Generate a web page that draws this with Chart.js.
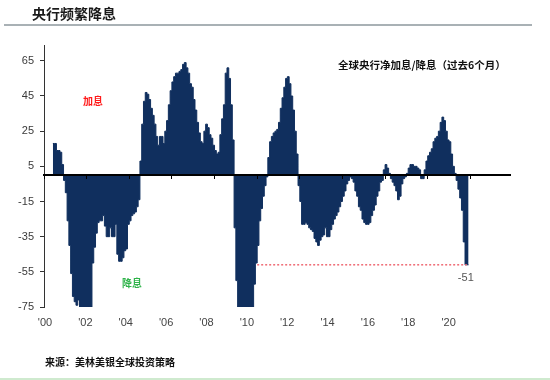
<!DOCTYPE html>
<html>
<head>
<meta charset="utf-8">
<script src="https://cdn.jsdelivr.net/npm/chart.js@4/dist/chart.umd.min.js"></script>
<style>
html, body { margin: 0; padding: 0; background: #ffffff; }
#wrap { position: relative; width: 550px; height: 380px; overflow: hidden; background: #fff; }
#c { position: absolute; left: 0; top: 0; }
.title { position: absolute; left: 32px; top: 5px; font: bold 14px/16px "Noto Sans CJK SC", sans-serif; color: #1a1a1a; white-space: nowrap; }
.rule { position: absolute; left: 4px; top: 24px; width: 528px; height: 2px; background: #a9b1b5; }
.src { position: absolute; left: 45px; top: 354px; font: bold 10px/16px "Noto Sans CJK SC", sans-serif; color: #111; white-space: nowrap; }
.bottomline { position: absolute; left: 0; top: 378px; width: 550px; height: 2px; background: #cfeacf; }
</style>
</head>
<body>
<div id="wrap">
  <canvas id="c" width="550" height="380"></canvas>
  <div class="title">央行频繁降息</div>
  <div class="rule"></div>
  <div class="src">来源：美林美银全球投资策略</div>
  <div class="bottomline"></div>
</div>
<script>
// ---- data: global central banks' net hikes/cuts over past 6 months (monthly) ----
const startYear = 2000;
const startMonth = 5; // June 2000 (0-based month)
const rates2000 = [18, 18, 14, 14, 13, 6, -3];               // Jun-Dec
const rates2001 = [-10, -26, -40, -56, -69, -72, -74, -71, -75, -75, -75, -75];
const rates2002 = [-75, -75, -75, -50, -41, -33, -27, -26, -26, -23, -29, -35];
const rates2003 = [-35, -30, -35, -35, -28, -45, -49, -49, -47, -43, -42, -28];
const rates2004 = [-26, -23, -22, -21, -18, -14, 8, 29, 42, 47, 46, 43];
const rates2005 = [38, 34, 29, 22, 17, 22, 22, 18, 25, 31, 40, 48];
const rates2006 = [53, 56, 58, 58, 59, 60, 63, 64, 61, 58, 52, 50];
const rates2007 = [43, 37, 30, 24, 19, 18, 25, 29, 27, 23, 21, 17];
const rates2008 = [14, 12, 13, 23, 32, 40, 58, 61, 55, 40, 20, -30];
const rates2009 = [-60, -75, -75, -75, -75, -75, -75, -75, -75, -75, -62, -50];
const rates2010 = [-40, -26, -19, -12, -6, -1, 10, 19, 22, 24, 25, 26];
const rates2011 = [30, 38, 44, 50, 55, 56, 52, 45, 37, 25, 12, -6];
const rates2012 = [-15, -28, -28, -27, -28, -30, -31, -32, -36, -38, -40, -37];
const rates2013 = [-35, -34, -30, -35, -35, -31, -28, -25, -23, -21, -18, -15];
const rates2014 = [-12, -9, -5, -3, -1, -2, -4, -9, -12, -18, -20, -25];
const rates2015 = [-27, -28, -28, -27, -23, -20, -17, -12, -9, -4, -3, 3];
const rates2016 = [6, 4, 1, -2, -4, -6, -9, -14, -12, -5, -2, -1];
const rates2017 = [1, 4, 6, 6, 5, 5, 4, 3, -2, -2, 3, 8];
const rates2018 = [11, 13, 15, 19, 21, 22, 25, 30, 33, 31, 25, 20];
const rates2019 = [19, 12, 5, 1, -3, -8, -13, -20, -38, -51, -51];  // Jan-Nov

const yTickValues = [65, 45, 25, 5, -15, -35, -55, -75];
const tickYears = [2000, 2002, 2004, 2006, 2008, 2010, 2012, 2014, 2016, 2018, 2020];
const tickLabels = ["'00", "'02", "'04", "'06", "'08", "'10", "'12", "'14", "'16", "'18", "'20"];
const refLineStart = 2010;      // dashed reference line start
const latestLabel = "-51";
const hikeLabel = "加息";
const cutLabel = "降息";
const seriesTitle = "全球央行净加息/降息（过去6个月）";

// ---- build points (step function: each value holds for its month) ----
const series = [].concat(rates2000, rates2001, rates2002, rates2003, rates2004, rates2005,
  rates2006, rates2007, rates2008, rates2009, rates2010, rates2011, rates2012, rates2013,
  rates2014, rates2015, rates2016, rates2017, rates2018, rates2019);
const points = series.map((v, i) => ({ x: startYear + (startMonth + i) / 12, y: v }));
const lastValue = series[series.length - 1];
const lastX = points[points.length - 1].x;
points.push({ x: startYear + (startMonth + series.length) / 12, y: lastValue }); // close last step

const refPoints = [{ x: refLineStart, y: lastValue }, { x: lastX, y: lastValue }];

const annot = {
  id: 'annot',
  afterDraw(chart) {
    const ctx = chart.ctx;
    const xs = chart.scales.x, ys = chart.scales.y;
    ctx.save();
    ctx.textBaseline = 'middle';
    ctx.textAlign = 'left';
    ctx.fillStyle = '#111';
    ctx.font = 'bold 10.5px "Noto Sans CJK SC"';
    ctx.fillText(seriesTitle, 338, 65);
    ctx.textAlign = 'center';
    ctx.fillStyle = '#ff1a1a';
    ctx.font = 'bold 10px "Noto Sans CJK SC"';
    ctx.fillText(hikeLabel, 93, 101);
    ctx.fillStyle = '#2fb34a';
    ctx.fillText(cutLabel, 132, 283);
    ctx.fillStyle = '#555';
    ctx.font = '11px "Liberation Sans"';
    ctx.fillText(latestLabel, xs.getPixelForValue(lastX) - 1, ys.getPixelForValue(lastValue) + 13);
    ctx.restore();
  }
};

new Chart(document.getElementById('c'), {
  type: 'line',
  data: {
    datasets: [
      {
        data: refPoints,
        xAxisID: 'x', yAxisID: 'y',
        borderColor: '#ef6a74',
        borderWidth: 1.5,
        borderDash: [2, 2],
        pointRadius: 0,
        fill: false,
        order: 0
      },
      {
        data: points,
        xAxisID: 'x', yAxisID: 'y',
        stepped: 'before',
        fill: 'origin',
        backgroundColor: '#102f5e',
        borderColor: '#102f5e',
        borderWidth: 1,
        pointRadius: 0,
        order: 1
      }
    ]
  },
  options: {
    responsive: false,
    animation: false,
    events: [],
    layout: { padding: { top: 45, right: 40, left: 0, bottom: 0 } },
    plugins: { legend: { display: false }, tooltip: { enabled: false }, title: { display: false } },
    scales: {
      x: {
        type: 'linear',
        min: 2000,
        max: 2021.86,
        position: { y: 0 },
        afterBuildTicks: s => { s.ticks = tickYears.map(v => ({ value: v })); },
        ticks: { display: false },
        grid: { display: true, drawOnChartArea: false, drawTicks: true, tickLength: 3, color: '#000', lineWidth: 1, z: 1 },
        border: { display: true, color: '#000', width: 2, z: 1 }
      },
      xl: {
        type: 'linear',
        position: 'bottom',
        min: -0.05,
        max: 23.04,
        afterBuildTicks: s => { s.ticks = tickYears.map(v => ({ value: v - startYear })); },
        afterFit: s => { s.height = 73; },
        ticks: {
          autoSkip: false, maxRotation: 0, padding: 9,
          color: '#444',
          font: { family: 'Liberation Sans', size: 11 },
          callback: (v, i) => tickLabels[i]
        },
        grid: { display: false, drawTicks: false },
        border: { display: false }
      },
      y: {
        type: 'linear',
        position: 'left',
        min: -75,
        max: 74,
        afterBuildTicks: s => { s.ticks = yTickValues.map(v => ({ value: v })); },
        afterFit: s => { s.width = 44; },
        ticks: { color: '#3a3a3a', padding: 6, font: { family: 'Liberation Sans', size: 11 } },
        grid: { display: true, drawOnChartArea: false, drawTicks: true, tickLength: 4, color: '#333', lineWidth: 1 },
        border: { display: true, color: '#333', width: 1 }
      }
    }
  },
  plugins: [annot]
});
</script>
</body>
</html>
